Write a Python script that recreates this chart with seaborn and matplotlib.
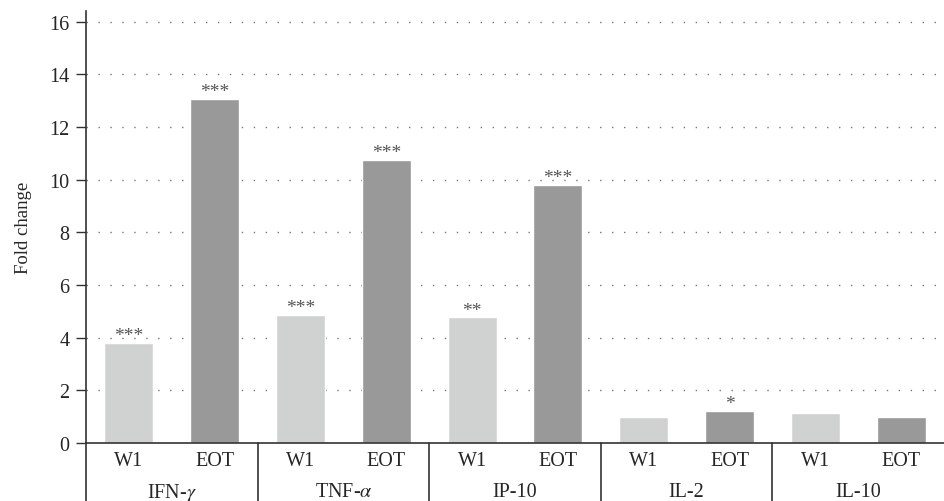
import numpy as np
import pandas as pd
import seaborn as sns
import matplotlib.pyplot as plt

# values
cytokines = [r'IFN-$\gamma$', r'TNF-$\alpha$', 'IP-10', 'IL-2', 'IL-10']
timepoints = ['W1', 'EOT']
w1_fold = [3.80, 4.87, 4.77, 1.00, 1.14]
eot_fold = [13.07, 10.76, 9.80, 1.22, 1.00]
w1_stars = ['***', '***', '**', '', '']
eot_stars = ['***', '***', '***', '*', '']
y_ticks = [0, 2, 4, 6, 8, 10, 12, 14, 16]

rows = []
for i, name in enumerate(cytokines):
    rows.append({'slot': f'{i}-W1', 'time': 'W1', 'fold': w1_fold[i], 'star': w1_stars[i]})
    rows.append({'slot': f'{i}-EOT', 'time': 'EOT', 'fold': eot_fold[i], 'star': eot_stars[i]})
df = pd.DataFrame(rows)

sns.set_style('white')
plt.rcParams['font.family'] = ['Liberation Serif', 'DejaVu Serif']
plt.rcParams['mathtext.fontset'] = 'stix'

fig = plt.figure(figsize=(9.44, 5.02), dpi=100)
ax = fig.add_axes([86 / 944, 58 / 502, 858 / 944, 432 / 502])

sns.barplot(data=df, x='slot', y='fold', hue='time', dodge=False,
            palette={'W1': '#d0d2d1', 'EOT': '#999999'}, width=0.57,
            saturation=1, legend=False, ax=ax, zorder=2)

ax.set_xlim(-0.5, len(df) - 0.5)
ax.set_ylim(0, 16.4)
ax.set_yticks(y_ticks)
ax.set_axisbelow(True)
ax.yaxis.grid(True, linestyle=(0, (1, 7.6)), color='#777777', linewidth=1.0)
ax.xaxis.grid(False)

ax.set_xticks(range(len(df)))
ax.set_xticklabels(df['time'], fontsize=14.5)
ax.tick_params(axis='x', length=0, pad=6)
ax.tick_params(axis='y', direction='out', length=7, width=1, color='#333333',
               labelsize=14.5, left=True, pad=5)
ax.set_xlabel('')
ax.set_ylabel('Fold change', fontsize=13.5, labelpad=12)

for s in ['top', 'right']:
    ax.spines[s].set_visible(False)
ax.spines['left'].set_color('#333333')
ax.spines['bottom'].set_color('#333333')
ax.spines['left'].set_linewidth(1.2)
ax.spines['bottom'].set_linewidth(1.2)

# significance stars
for i, r in df.iterrows():
    if r['star']:
        ax.annotate(r['star'], (i, r['fold']), xytext=(0, -1), textcoords='offset points',
                    ha='center', va='bottom', fontsize=14, color='#555555')

# group labels and separators below the axis
drop = -58 / 432
for g, name in enumerate(cytokines):
    ax.annotate(name, (2 * g + 0.5, 0), xycoords=('data', 'axes fraction'),
                xytext=(0, -35), textcoords='offset points',
                ha='center', va='center', fontsize=14.5, annotation_clip=False)
for k in range(len(cytokines)):
    ax.plot([2 * k - 0.5, 2 * k - 0.5], [0, drop], transform=ax.get_xaxis_transform(),
            color='#333333', linewidth=1.2, clip_on=False)

fig.savefig('out.png', dpi=100)
